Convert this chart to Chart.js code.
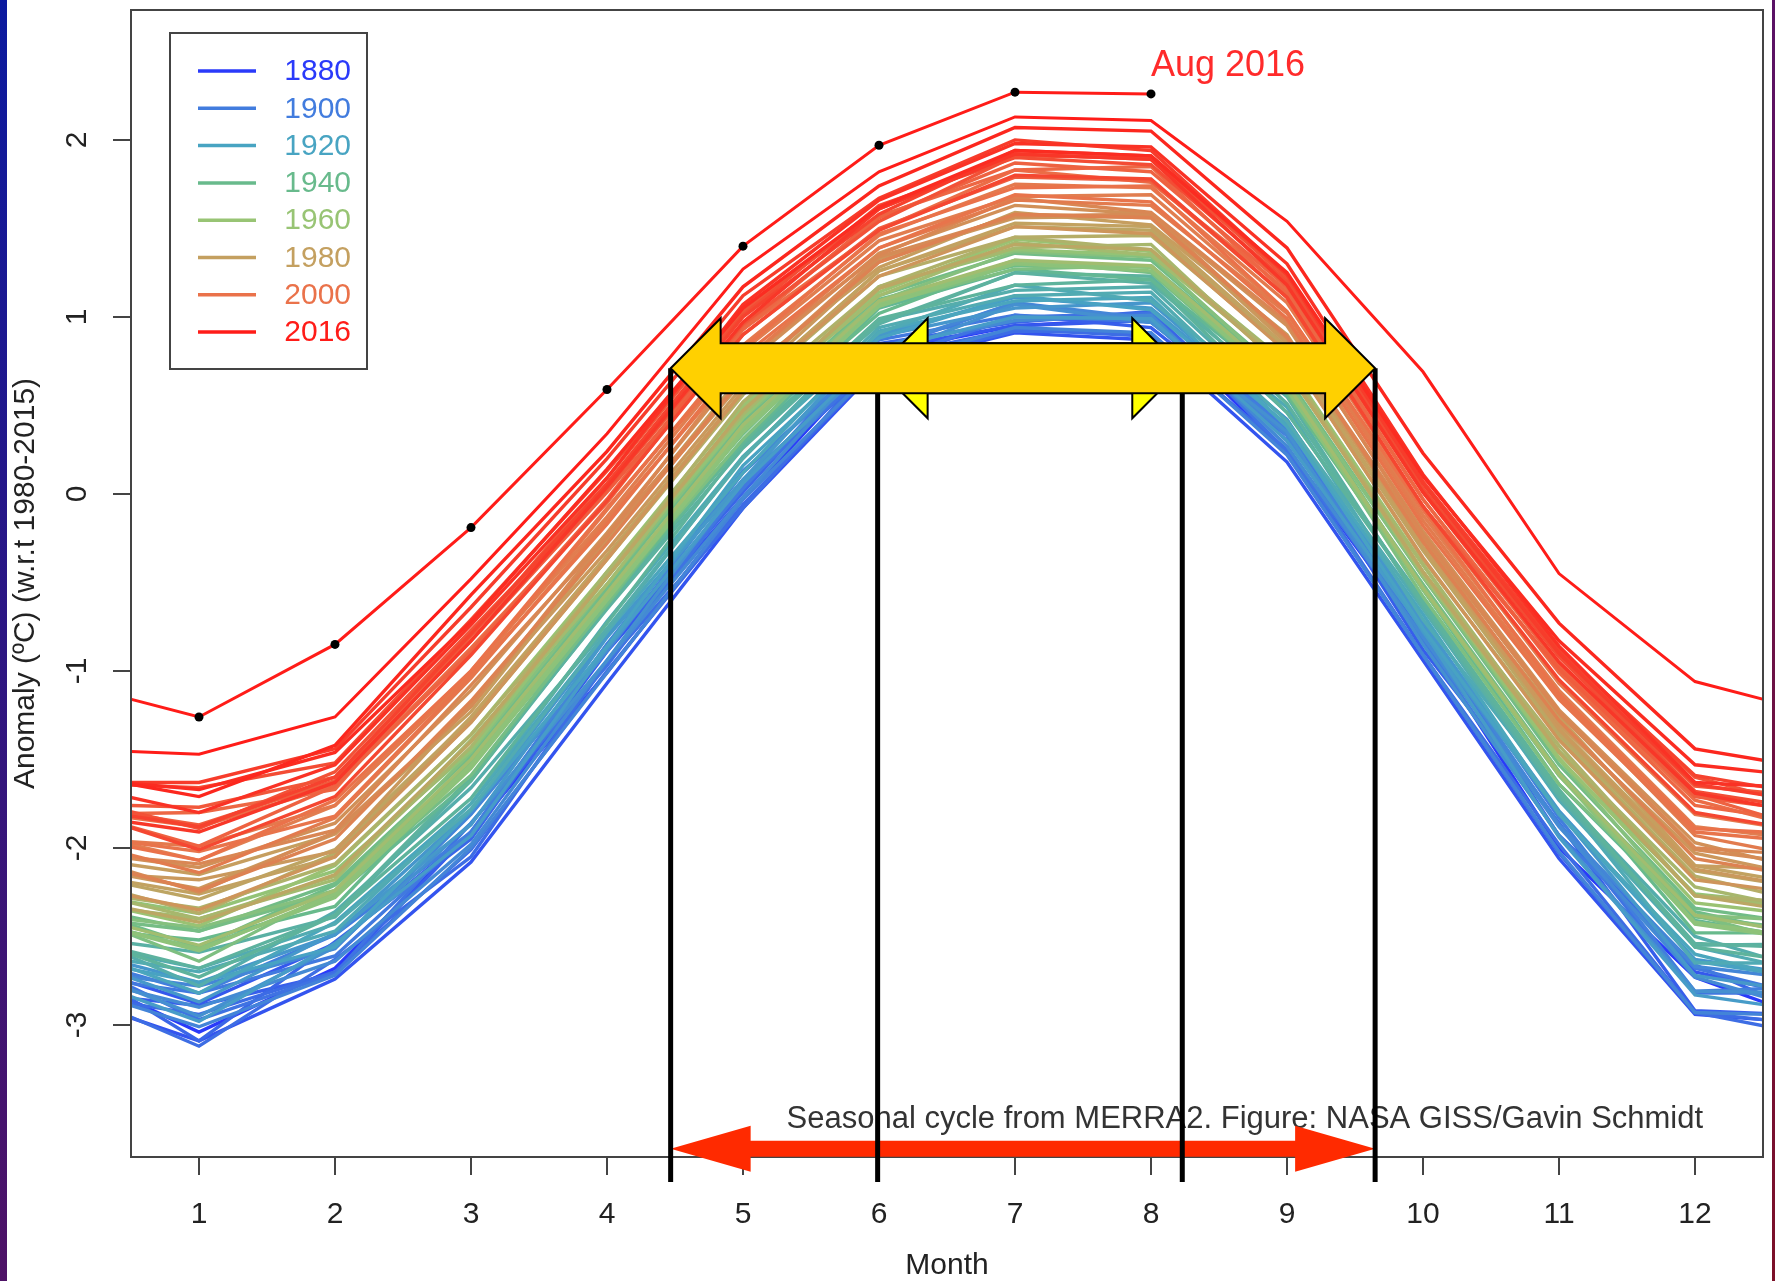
<!DOCTYPE html>
<html>
<head>
<meta charset="utf-8">
<title>Seasonal cycle from MERRA2</title>
<script src="https://cdn.jsdelivr.net/npm/chart.js@4.4.1/dist/chart.umd.min.js"></script>
<style>
  html, body { margin: 0; padding: 0; background: #fff; }
  #wrap { width: 1775px; height: 1281px; }
</style>
</head>
<body>
<div id="wrap"><canvas id="cycle" width="1775" height="1281"></canvas></div>
<script>
// x positions: 0 = previous December, 1..12 = Jan..Dec, 13 = next January
const months = [0, 1, 2, 3, 4, 5, 6, 7, 8, 9, 10, 11, 12, 13];
const monthTicks = [1, 2, 3, 4, 5, 6, 7, 8, 9, 10, 11, 12];
const anomalyTicks = [-3, -2, -1, 0, 1, 2];

const legendYears = [1880, 1900, 1920, 1940, 1960, 1980, 2000, 2016];

// monthly anomalies (°C, w.r.t. 1980-2015), one row per year
const years1880 = [1880, 1883, 1884, 1886, 1889, 1891, 1892, 1895, 1898];
const runs1880 = [
  [-2.68, -3.04, -2.68, -1.91, -1.01, -0.03, 0.80, 0.95, 0.99, 0.23, -0.81, -2.00, -2.73, -3.01],
  [-2.83, -3.09, -2.74, -2.08, -1.07, -0.08, 0.72, 0.91, 0.87, 0.18, -0.94, -2.06, -2.94, -3.00],
  [-2.64, -2.88, -2.54, -1.92, -0.89, -0.02, 0.82, 0.95, 0.98, 0.35, -0.79, -1.87, -2.70, -2.87],
  [-2.81, -2.89, -2.71, -1.91, -0.95, 0.07, 0.73, 1.01, 0.94, 0.33, -0.88, -1.86, -2.92, -2.95],
  [-2.62, -3.09, -2.53, -1.95, -0.87, 0.01, 0.85, 0.97, 1.03, 0.30, -0.75, -1.93, -2.66, -3.00],
  [-2.82, -2.94, -2.70, -2.01, -1.00, -0.06, 0.73, 0.92, 0.91, 0.23, -0.91, -2.03, -2.93, -3.01],
  [-2.79, -3.12, -2.63, -2.05, -0.95, -0.08, 0.77, 0.93, 0.89, 0.25, -0.91, -1.98, -2.93, -3.08],
  [-2.60, -2.97, -2.71, -1.86, -0.97, 0.05, 0.75, 1.00, 1.02, 0.24, -0.80, -1.86, -2.82, -2.82],
  [-2.71, -2.82, -2.61, -1.91, -0.85, 0.03, 0.87, 1.01, 0.97, 0.39, -0.83, -1.93, -2.68, -2.87]
];

const years1900 = [1901, 1904, 1905, 1907, 1910, 1913, 1914, 1916, 1919];
const runs1900 = [
  [-2.60, -2.82, -2.49, -1.91, -0.85, 0.13, 0.81, 1.08, 0.97, 0.37, -0.72, -1.83, -2.81, -2.78],
  [-2.77, -3.01, -2.72, -2.00, -1.01, -0.03, 0.73, 0.94, 0.91, 0.22, -0.91, -2.02, -2.93, -2.95],
  [-2.68, -2.78, -2.57, -1.81, -0.89, 0.12, 0.82, 1.08, 0.99, 0.33, -0.75, -1.87, -2.67, -2.76],
  [-2.71, -2.90, -2.64, -1.98, -0.94, -0.02, 0.83, 0.98, 1.01, 0.27, -0.81, -1.88, -2.73, -2.95],
  [-2.65, -2.95, -2.56, -1.86, -0.94, 0.08, 0.77, 1.07, 0.97, 0.35, -0.85, -1.93, -2.81, -2.82],
  [-2.56, -2.76, -2.49, -1.79, -0.80, 0.08, 0.89, 1.05, 1.08, 0.42, -0.73, -1.79, -2.63, -2.74],
  [-2.60, -2.87, -2.48, -1.87, -0.81, 0.08, 0.90, 1.11, 1.05, 0.42, -0.78, -1.80, -2.72, -2.84],
  [-2.70, -2.98, -2.54, -1.93, -0.87, 0.06, 0.81, 1.00, 0.99, 0.30, -0.77, -1.94, -2.83, -2.94],
  [-2.61, -2.76, -2.56, -1.79, -0.86, 0.16, 0.88, 1.12, 1.04, 0.39, -0.76, -1.80, -2.64, -2.76]
];

const years1920 = [1922, 1925, 1926, 1928, 1931, 1933, 1934, 1937];
const runs1920 = [
  [-2.54, -2.82, -2.42, -1.75, -0.78, 0.12, 0.92, 1.09, 1.11, 0.38, -0.68, -1.81, -2.60, -2.79],
  [-2.58, -2.70, -2.47, -1.75, -0.72, 0.21, 0.91, 1.18, 1.09, 0.49, -0.71, -1.70, -2.65, -2.65],
  [-2.52, -2.68, -2.43, -1.78, -0.78, 0.21, 0.94, 1.12, 1.14, 0.41, -0.65, -1.73, -2.56, -2.73],
  [-2.45, -2.78, -2.36, -1.66, -0.76, 0.20, 0.98, 1.15, 1.17, 0.46, -0.60, -1.69, -2.50, -2.73],
  [-2.49, -2.59, -2.39, -1.62, -0.64, 0.30, 0.96, 1.25, 1.19, 0.55, -0.64, -1.71, -2.55, -2.54],
  [-2.49, -2.68, -2.38, -1.60, -0.65, 0.26, 0.97, 1.25, 1.23, 0.51, -0.62, -1.69, -2.54, -2.57],
  [-2.47, -2.73, -2.38, -1.72, -0.73, 0.28, 0.99, 1.18, 1.21, 0.46, -0.61, -1.67, -2.56, -2.67],
  [-2.38, -2.57, -2.27, -1.62, -0.61, 0.29, 1.05, 1.27, 1.21, 0.59, -0.54, -1.64, -2.41, -2.54]
];

const years1940 = [1940, 1943, 1944, 1946, 1949, 1952, 1955, 1956, 1958];
const runs1940 = [
  [-2.45, -2.52, -2.33, -1.53, -0.63, 0.36, 1.02, 1.31, 1.28, 0.56, -0.53, -1.57, -2.48, -2.48],
  [-2.31, -2.56, -2.21, -1.54, -0.54, 0.34, 1.10, 1.29, 1.29, 0.65, -0.54, -1.59, -2.36, -2.53],
  [-2.31, -2.47, -2.20, -1.48, -0.53, 0.41, 1.12, 1.36, 1.32, 0.66, -0.47, -1.53, -2.34, -2.45],
  [-2.38, -2.47, -2.25, -1.59, -0.62, 0.37, 1.06, 1.32, 1.25, 0.58, -0.51, -1.57, -2.39, -2.48],
  [-2.34, -2.64, -2.24, -1.51, -0.58, 0.31, 1.07, 1.27, 1.29, 0.61, -0.58, -1.64, -2.38, -2.59],
  [-2.36, -2.45, -2.24, -1.46, -0.51, 0.43, 1.09, 1.37, 1.34, 0.64, -0.47, -1.50, -2.38, -2.42],
  [-2.38, -2.57, -2.28, -1.55, -0.60, 0.35, 1.06, 1.30, 1.26, 0.59, -0.54, -1.59, -2.43, -2.54],
  [-2.38, -2.58, -2.26, -1.53, -0.58, 0.37, 1.08, 1.31, 1.28, 0.61, -0.53, -1.58, -2.42, -2.53],
  [-2.24, -2.37, -2.13, -1.45, -0.47, 0.43, 1.17, 1.38, 1.35, 0.73, -0.44, -1.50, -2.26, -2.34]
];

const years1960 = [1961, 1964, 1965, 1967, 1970, 1973, 1976, 1977, 1979];
const runs1960 = [
  [-2.27, -2.44, -2.10, -1.36, -0.44, 0.50, 1.14, 1.44, 1.37, 0.74, -0.40, -1.49, -2.31, -2.40],
  [-2.35, -2.55, -2.24, -1.50, -0.56, 0.39, 1.09, 1.32, 1.29, 0.62, -0.53, -1.58, -2.38, -2.51],
  [-2.30, -2.40, -2.18, -1.39, -0.51, 0.48, 1.12, 1.42, 1.35, 0.72, -0.46, -1.46, -2.27, -2.36],
  [-2.22, -2.40, -2.16, -1.43, -0.44, 0.45, 1.17, 1.39, 1.41, 0.69, -0.40, -1.45, -2.22, -2.38],
  [-2.23, -2.34, -2.09, -1.36, -0.47, 0.52, 1.17, 1.45, 1.38, 0.73, -0.44, -1.42, -2.27, -2.32],
  [-2.16, -2.37, -2.03, -1.29, -0.37, 0.56, 1.23, 1.45, 1.46, 0.81, -0.37, -1.37, -2.16, -2.34],
  [-2.27, -2.42, -2.15, -1.40, -0.47, 0.47, 1.16, 1.41, 1.38, 0.70, -0.44, -1.46, -2.27, -2.39],
  [-2.13, -2.29, -2.01, -1.27, -0.35, 0.58, 1.26, 1.51, 1.49, 0.82, -0.32, -1.35, -2.13, -2.25],
  [-2.13, -2.26, -2.05, -1.26, -0.35, 0.58, 1.26, 1.53, 1.51, 0.83, -0.31, -1.32, -2.10, -2.23]
];

const years1980 = [1981, 1983, 1984, 1985, 1987, 1989, 1991, 1993, 1995, 1996, 1997, 1999];
const runs1980 = [
  [-2.04, -2.15, -1.92, -1.23, -0.27, 0.68, 1.28, 1.59, 1.52, 0.90, -0.30, -1.26, -2.10, -2.13],
  [-2.13, -2.18, -2.02, -1.19, -0.32, 0.61, 1.31, 1.58, 1.56, 0.85, -0.27, -1.33, -2.12, -2.25],
  [-2.09, -2.23, -1.92, -1.20, -0.26, 0.64, 1.33, 1.56, 1.57, 0.87, -0.25, -1.30, -2.03, -2.19],
  [-2.19, -2.35, -2.05, -1.29, -0.37, 0.58, 1.23, 1.51, 1.47, 0.80, -0.36, -1.39, -2.18, -2.28],
  [-2.01, -2.11, -1.86, -1.11, -0.22, 0.72, 1.36, 1.63, 1.58, 0.95, -0.21, -1.22, -1.97, -2.16],
  [-2.02, -2.25, -1.91, -1.20, -0.24, 0.65, 1.34, 1.57, 1.58, 0.88, -0.24, -1.24, -2.01, -2.11],
  [-2.02, -2.09, -1.90, -1.08, -0.24, 0.75, 1.35, 1.67, 1.59, 0.97, -0.23, -1.23, -2.00, -2.05],
  [-2.05, -2.24, -1.95, -1.17, -0.28, 0.66, 1.31, 1.58, 1.56, 0.89, -0.27, -1.28, -2.06, -2.19],
  [-1.89, -2.07, -1.76, -1.00, -0.13, 0.81, 1.43, 1.68, 1.69, 1.03, -0.12, -1.11, -1.88, -1.97],
  [-1.94, -2.14, -1.83, -1.04, -0.15, 0.75, 1.39, 1.66, 1.63, 1.02, -0.15, -1.14, -1.93, -2.08],
  [-1.94, -1.99, -1.76, -1.02, -0.09, 0.84, 1.46, 1.75, 1.73, 1.08, -0.07, -1.07, -1.81, -1.93],
  [-1.92, -2.02, -1.82, -1.03, -0.17, 0.78, 1.39, 1.69, 1.65, 0.99, -0.18, -1.16, -1.91, -1.98]
];

const years2000 = [2000, 2001, 2002, 2003, 2004, 2005, 2006, 2007, 2008, 2009, 2010, 2011, 2012, 2013, 2014];
const runs2000 = [
  [-1.92, -2.07, -1.73, -1.00, -0.08, 0.82, 1.47, 1.73, 1.74, 1.03, -0.09, -1.13, -1.89, -1.93],
  [-1.78, -1.88, -1.65, -0.87, -0.05, 0.93, 1.49, 1.83, 1.76, 1.15, -0.03, -1.00, -1.73, -1.93],
  [-1.81, -1.80, -1.67, -0.80, 0.04, 0.93, 1.57, 1.83, 1.85, 1.13, -0.03, -1.01, -1.76, -1.87],
  [-1.77, -1.99, -1.65, -0.89, -0.03, 0.95, 1.56, 1.87, 1.82, 1.17, 0.01, -0.97, -1.70, -1.93],
  [-1.75, -1.87, -1.62, -0.83, 0.01, 0.90, 1.50, 1.79, 1.77, 1.11, -0.07, -0.99, -1.71, -1.81],
  [-1.75, -1.77, -1.60, -0.80, 0.09, 1.03, 1.61, 1.92, 1.89, 1.24, 0.06, -0.91, -1.65, -1.72],
  [-1.70, -1.89, -1.57, -0.77, 0.03, 0.96, 1.54, 1.91, 1.90, 1.22, 0.06, -0.89, -1.60, -1.80],
  [-1.63, -1.66, -1.52, -0.71, 0.13, 1.01, 1.63, 1.90, 1.86, 1.20, 0.03, -0.92, -1.68, -1.80],
  [-1.76, -2.01, -1.71, -0.91, -0.04, 0.90, 1.49, 1.80, 1.78, 1.11, -0.07, -1.05, -1.80, -1.93],
  [-1.76, -1.88, -1.60, -0.79, 0.06, 1.00, 1.58, 1.94, 1.91, 1.24, 0.07, -0.88, -1.59, -1.72],
  [-1.63, -1.63, -1.44, -0.64, 0.20, 1.12, 1.67, 2.00, 1.94, 1.24, 0.06, -0.90, -1.64, -1.76],
  [-1.80, -1.91, -1.63, -0.83, 0.04, 0.97, 1.61, 1.92, 1.89, 1.18, 0.01, -0.95, -1.69, -1.83],
  [-1.63, -1.80, -1.53, -0.74, 0.09, 1.07, 1.66, 1.98, 1.96, 1.30, 0.11, -0.86, -1.63, -1.67],
  [-1.60, -1.67, -1.46, -0.72, 0.14, 1.05, 1.62, 1.94, 1.91, 1.25, 0.10, -0.83, -1.53, -1.61],
  [-1.57, -1.71, -1.42, -0.57, 0.24, 1.17, 1.74, 2.07, 2.05, 1.39, 0.23, -0.73, -1.44, -1.57]
];

const run2015 = [-1.44, -1.47, -1.26, -0.48, 0.34, 1.27, 1.82, 2.13, 2.11, 1.54, 0.69, -0.45, -1.06, -1.26];
// 2016 only runs to August
const run2016 = [-1.06, -1.26, -0.85, -0.19, 0.59, 1.40, 1.97, 2.27, 2.26];

// overlay markers, in axis units
const spanOuter = [4.468, 9.648];
const spanInner = [5.99, 8.23];
const arrowLevel = 0.71;
const baseArrowLevel = -3.70;

// legend swatch colours, 1880 -> 2016
const legendRGB = [
  [42, 58, 250], [66, 124, 222], [72, 164, 194], [104, 186, 140],
  [152, 196, 116], [196, 160, 96], [234, 114, 74], [255, 28, 24]
];

const rgb = c => `rgb(${c[0]},${c[1]},${c[2]})`;

function yearColor(year) {
  let i = 0;
  while (i < legendYears.length - 2 && year > legendYears[i + 1]) i++;
  let t = Math.min(1, (year - legendYears[i]) / (legendYears[i + 1] - legendYears[i]));
  if (i === 0) t = Math.sqrt(t); // early lines fade quickly from deep blue to steel blue
  const a = legendRGB[i], b = legendRGB[i + 1];
  return rgb(a.map((c, k) => Math.round(c + (b[k] - c) * t)));
}

const groups = [
  [years1880, runs1880], [years1900, runs1900], [years1920, runs1920],
  [years1940, runs1940], [years1960, runs1960], [years1980, runs1980], [years2000, runs2000]
];

const datasets = [];
groups.forEach(([yrs, rows]) => {
  yrs.forEach((yr, i) => {
    datasets.push({
      label: String(yr),
      data: rows[i].map((v, k) => ({ x: months[k], y: v })),
      borderColor: yearColor(yr),
      borderWidth: 3.4,
      pointRadius: 0,
      order: -yr
    });
  });
});
datasets.push({
  label: '2015',
  data: run2015.map((v, k) => ({ x: months[k], y: v })),
  borderColor: rgb(legendRGB[7]),
  borderWidth: 3,
  pointRadius: 0,
  order: -2015
});
datasets.push({
  label: '2016',
  data: run2016.map((v, k) => ({ x: months[k], y: v })),
  borderColor: rgb(legendRGB[7]),
  borderWidth: 3,
  pointRadius: run2016.map((v, k) => (k === 0 ? 0 : 4.5)),
  pointBackgroundColor: '#000',
  pointBorderColor: '#000',
  pointBorderWidth: 0,
  order: -2016
});

function doubleArrow(ctx, x1, x2, yc, head, headHalf, shaftHalf) {
  ctx.beginPath();
  ctx.moveTo(x1, yc);
  ctx.lineTo(x1 + head, yc - headHalf);
  ctx.lineTo(x1 + head, yc - shaftHalf);
  ctx.lineTo(x2 - head, yc - shaftHalf);
  ctx.lineTo(x2 - head, yc - headHalf);
  ctx.lineTo(x2, yc);
  ctx.lineTo(x2 - head, yc + headHalf);
  ctx.lineTo(x2 - head, yc + shaftHalf);
  ctx.lineTo(x1 + head, yc + shaftHalf);
  ctx.lineTo(x1 + head, yc + headHalf);
  ctx.closePath();
}

const decorations = {
  id: 'decorations',
  beforeDraw(chart) {
    const { ctx, width, height } = chart;
    ctx.save();
    ctx.fillStyle = '#fff';
    ctx.fillRect(0, 0, width, height);
    let g = ctx.createLinearGradient(0, 0, 0, height);
    g.addColorStop(0, '#0b1a9f');
    g.addColorStop(1, '#4e1266');
    ctx.fillStyle = g;
    ctx.fillRect(0, 0, 7, height);
    g = ctx.createLinearGradient(0, 0, 0, height);
    g.addColorStop(0, '#5a1266');
    g.addColorStop(1, '#7c1028');
    ctx.fillStyle = g;
    ctx.fillRect(width - 3, 0, 3, height);
    ctx.restore();
  },
  afterDatasetsDraw(chart) {
    const { ctx, chartArea: a, scales: { x, y } } = chart;
    ctx.save();

    // plot frame
    ctx.strokeStyle = '#444';
    ctx.lineWidth = 2;
    ctx.strokeRect(a.left, a.top, a.right - a.left, a.bottom - a.top);

    // credit line
    ctx.fillStyle = '#333';
    ctx.font = '31px "Liberation Sans", Arial, sans-serif';
    ctx.textAlign = 'center';
    ctx.textBaseline = 'middle';
    ctx.fillText('Seasonal cycle from MERRA2. Figure: NASA GISS/Gavin Schmidt',
      x.getPixelForValue(8.69), y.getPixelForValue(-3.535));

    // last point label
    ctx.fillStyle = '#ff2b2b';
    ctx.font = '36px "Liberation Sans", Arial, sans-serif';
    ctx.textAlign = 'left';
    ctx.fillText('Aug 2016', x.getPixelForValue(8), y.getPixelForValue(2.42));

    // legend box
    const lx = a.left + 39, ly = a.top + 23;
    ctx.strokeStyle = '#444';
    ctx.lineWidth = 2;
    ctx.strokeRect(lx, ly, 197, 336);
    ctx.font = '30px "Liberation Sans", Arial, sans-serif';
    ctx.textAlign = 'right';
    legendYears.forEach((yr, i) => {
      const ry = ly + 38 + i * 37.3;
      ctx.strokeStyle = rgb(legendRGB[i]);
      ctx.lineWidth = 3.5;
      ctx.beginPath();
      ctx.moveTo(lx + 28, ry);
      ctx.lineTo(lx + 86, ry);
      ctx.stroke();
      ctx.fillStyle = rgb(legendRGB[i]);
      ctx.fillText(String(yr), lx + 181, ry + 1);
    });

    const xo1 = x.getPixelForValue(spanOuter[0]), xo2 = x.getPixelForValue(spanOuter[1]);
    const xi1 = x.getPixelForValue(spanInner[0]), xi2 = x.getPixelForValue(spanInner[1]);
    const ya = y.getPixelForValue(arrowLevel);

    // red arrow along the bottom
    ctx.fillStyle = '#ff2a00';
    doubleArrow(ctx, xo1, xo2, y.getPixelForValue(baseArrowLevel), 80, 23, 8);
    ctx.fill();

    // vertical markers
    ctx.strokeStyle = '#000';
    ctx.lineWidth = 5;
    [xo1, xi1, xi2, xo2].forEach(px => {
      ctx.beginPath();
      ctx.moveTo(px, ya);
      ctx.lineTo(px, a.bottom + 25);
      ctx.stroke();
    });

    // yellow span arrows
    ctx.lineWidth = 2;
    ctx.lineJoin = 'miter';
    ctx.fillStyle = '#ffff00';
    doubleArrow(ctx, xi1, xi2, ya, 50, 50, 25);
    ctx.fill();
    ctx.stroke();
    ctx.fillStyle = '#ffd000';
    doubleArrow(ctx, xo1, xo2, ya, 50, 50, 25);
    ctx.fill();
    ctx.stroke();

    ctx.restore();
  }
};

// fixed axis sizes so the plot box sits where the figure frame is
function fitX(s) {
  s.height = 124;
  s.paddingLeft = 0;
  s.paddingRight = 0;
}
function fitY(s) {
  s.width = 131;
  s.paddingTop = 0;
  s.paddingBottom = 0;
}

Chart.defaults.font.family = '"Liberation Sans", Arial, sans-serif';
Chart.defaults.color = '#222';

new Chart(document.getElementById('cycle'), {
  type: 'line',
  data: { datasets },
  options: {
    responsive: false,
    animation: false,
    events: [],
    layout: { padding: { left: 0, top: 10, right: 12, bottom: 0 } },
    plugins: { legend: { display: false }, tooltip: { enabled: false } },
    elements: { line: { tension: 0 } },
    scales: {
      x: {
        type: 'linear',
        min: 0.5,
        max: 12.5,
        afterBuildTicks: s => { s.ticks = monthTicks.map(v => ({ value: v })); },
        afterFit: fitX,
        grid: { drawOnChartArea: false, drawTicks: true, tickLength: 18, color: '#444', lineWidth: 2 },
        border: { display: false },
        ticks: { padding: 22, font: { size: 30 }, maxRotation: 0, autoSkip: false, callback: v => String(v) },
        title: { display: true, text: 'Month', font: { size: 30, lineHeight: 1 }, padding: { top: 0, bottom: 0 } }
      },
      y: {
        type: 'linear',
        min: -3.746,
        max: 2.734,
        afterBuildTicks: s => { s.ticks = anomalyTicks.map(v => ({ value: v })); },
        afterFit: fitY,
        grid: { drawOnChartArea: false, drawTicks: true, tickLength: 18, color: '#444', lineWidth: 2 },
        border: { display: false },
        ticks: { padding: 22, crossAlign: 'center', minRotation: 90, maxRotation: 90, font: { size: 30 }, callback: v => String(v) },
        title: { display: true, text: 'Anomaly (ºC) (w.r.t 1980-2015)', font: { size: 30 }, padding: { top: 8, bottom: 0 } }
      }
    }
  },
  plugins: [decorations]
});
</script>
</body>
</html>
